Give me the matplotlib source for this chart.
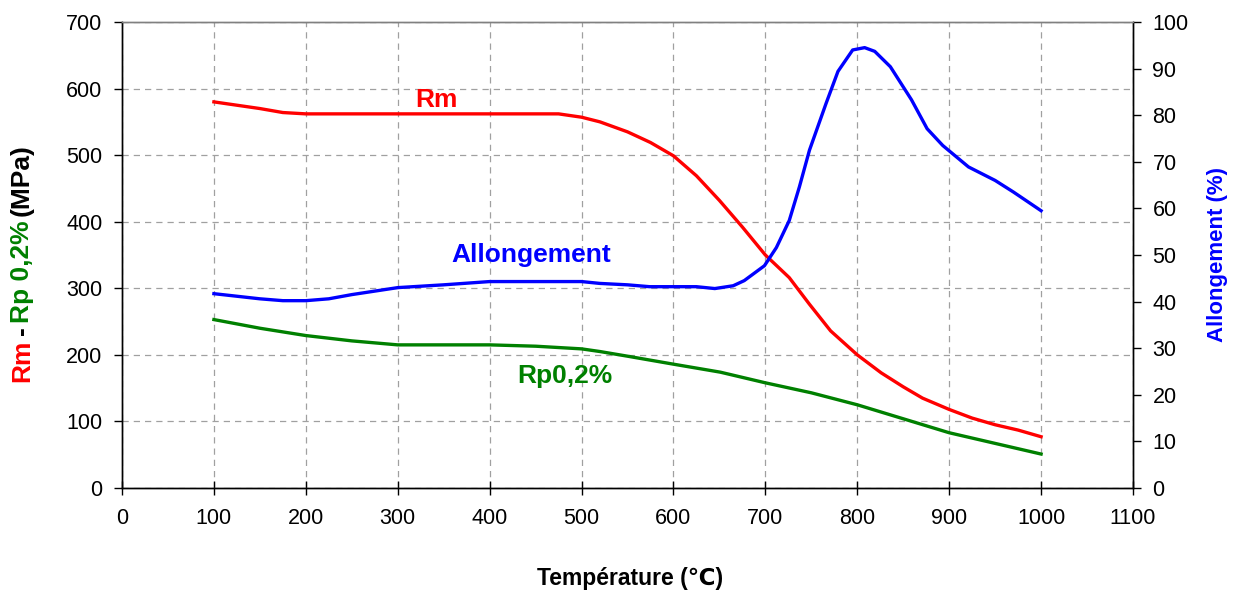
"""Rm / Rp0,2% / Allongement versus temperature (dual axis)."""

import matplotlib

matplotlib.use("Agg")
import matplotlib.pyplot as plt

plt.rcParams["font.family"] = ["Liberation Sans", "DejaVu Sans"]

# Rm (MPa)
rm_temp = [100, 150, 175, 200, 250, 300, 350, 400, 450, 475, 500, 520, 550, 575, 600,
           625, 650, 675, 700, 726, 748, 771, 800, 826, 850, 871, 900, 925, 950, 975, 1000]
rm_val = [580, 570, 564, 562, 562, 562, 562, 562, 562, 562, 557, 550, 535, 519, 499,
          469, 432, 392, 350, 316, 276, 236, 200, 173, 152, 135, 118, 105, 95, 87, 77]

# Rp0,2% (MPa)
rp_temp = [100, 150, 200, 250, 300, 350, 400, 450, 500, 520, 550, 600, 651, 700,
           750, 800, 850, 900, 950, 1000]
rp_val = [253, 240, 229, 221, 215, 215, 215, 213, 209, 205, 198, 186, 174, 158,
          143, 125, 104, 83, 67, 51]

# Allongement (%)
al_temp = [100, 150, 175, 200, 225, 250, 300, 350, 400, 450, 500, 520, 550, 574, 600,
           625, 645, 665, 677, 699, 712, 726, 737, 748, 766, 779, 795, 808, 819, 836,
           859, 876, 893, 921, 950, 970, 1000]
al_val = [41.7, 40.6, 40.2, 40.2, 40.6, 41.5, 43.0, 43.6, 44.3, 44.3, 44.3, 43.9, 43.6,
          43.2, 43.2, 43.2, 42.8, 43.4, 44.5, 47.7, 51.6, 57.4, 64.6, 72.5, 82.5, 89.4,
          94.0, 94.5, 93.7, 90.4, 83.3, 77.1, 73.5, 68.9, 66.0, 63.5, 59.5]

RED, GREEN, BLUE = "#ff0000", "#008000", "#0000ff"
W, H = 1247, 597

fig = plt.figure(figsize=(W / 100, H / 100), dpi=100, facecolor="white")
ax = fig.add_axes([122 / W, 1 - 488 / H, 1011 / W, 466 / H])
ax2 = ax.twinx()

ax.plot(rm_temp, rm_val, color=RED, lw=2.4, zorder=3)
ax.plot(rp_temp, rp_val, color=GREEN, lw=2.4, zorder=3)
ax2.plot(al_temp, al_val, color=BLUE, lw=2.4, zorder=3)

ax.set_xlim(0, 1100)
ax.set_ylim(0, 700)
ax2.set_ylim(0, 100)
ax.set_xticks(range(0, 1101, 100))
ax.set_yticks(range(0, 701, 100))
ax2.set_yticks(range(0, 101, 10))

ax.grid(True, color="#a0a0a0", ls=(0, (5, 4)), lw=0.9)
ax.set_axisbelow(True)

for a in (ax, ax2):
    for s in ("left", "bottom", "right"):
        a.spines[s].set_color("black")
        a.spines[s].set_linewidth(1.0)
    a.spines["top"].set_color("#808080")
    a.spines["top"].set_linewidth(1.0)

ax.tick_params(axis="y", labelsize=15.5, length=6, width=1.0, direction="out", pad=8)
ax.tick_params(axis="x", labelsize=15.5, length=9.5, width=1.0, direction="inout", pad=10)
ax2.tick_params(axis="y", labelsize=15.5, length=6, width=1.0, direction="out", pad=8)

# Series labels
ax.text(342, 572, "Rm", color=RED, fontsize=19, fontweight="bold", ha="center", va="baseline")
ax.text(445, 340, "Allongement", color=BLUE, fontsize=19, fontweight="bold",
        ha="center", va="baseline")
ax.text(482, 158, "Rp0,2%", color=GREEN, fontsize=19, fontweight="bold",
        ha="center", va="baseline")

# Axis labels
fig.text(630 / W, 1 - 578 / H, "Température (℃)", fontsize=16.5, fontweight="bold",
         ha="center", va="center")
fig.text(1217 / W, 1 - 255 / H, "Allongement (%)", fontsize=16, fontweight="bold",
         color=BLUE, rotation=90, ha="center", va="center")

# Multicolour left label built piece by piece, bottom to top
parts = [("Rm", RED), ("-", "black"), ("Rp 0,2%", GREEN), ("(MPa)", "black")]
prev = fig.text(22 / W, 1 - 382 / H, parts[0][0], color=parts[0][1], rotation=90,
                fontsize=19, fontweight="bold", ha="center", va="bottom")
for txt, col in parts[1:]:
    prev = ax.annotate(txt, xy=(0.5, 1), xycoords=prev, xytext=(0, 3),
                       textcoords="offset points", rotation=90, color=col,
                       fontsize=19, fontweight="bold", ha="center", va="bottom")

fig.savefig("out.png", dpi=100, facecolor="white")
plt.close(fig)
